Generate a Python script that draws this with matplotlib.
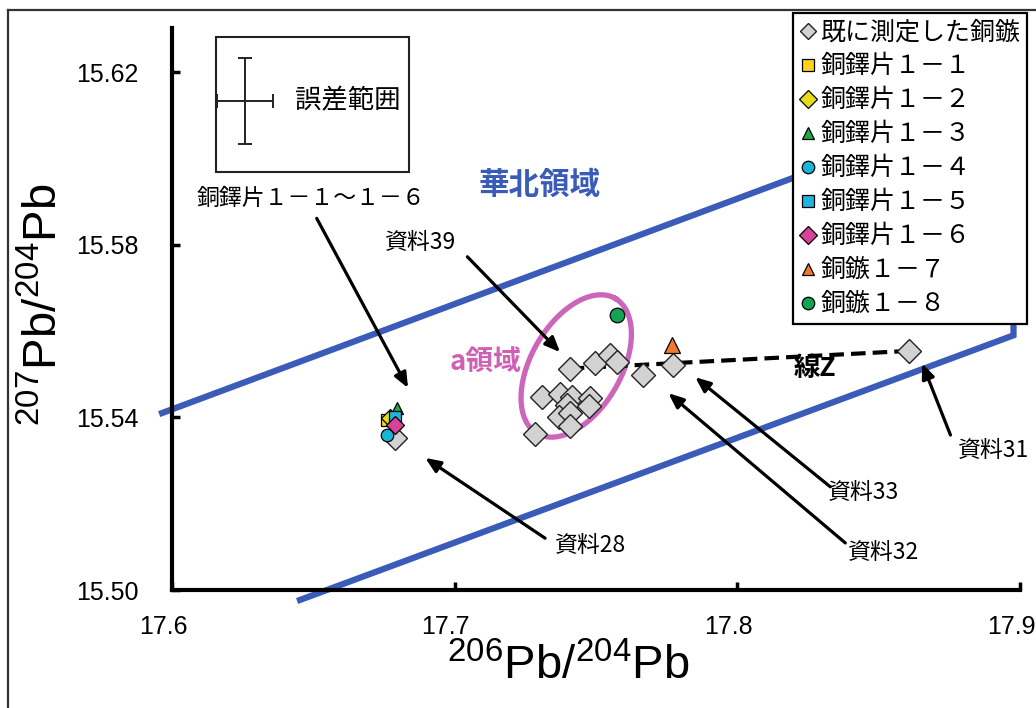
import numpy as np
import matplotlib
matplotlib.use('Agg')
import matplotlib.pyplot as plt
import matplotlib.transforms as mtransforms
from matplotlib.lines import Line2D
from matplotlib.patches import Rectangle

plt.rcParams['font.family'] = ['Noto Sans CJK JP', 'DejaVu Sans']
plt.rcParams['mathtext.fontset'] = 'custom'
plt.rcParams['mathtext.rm'] = 'Liberation Sans'
plt.rcParams['mathtext.it'] = 'Liberation Sans'
NUM_FONT = ['Liberation Sans', 'DejaVu Sans']

# previously measured arrowheads (206Pb/204Pb, 207Pb/204Pb)
known_x = [17.7407, 17.7498, 17.7549, 17.7575, 17.7668, 17.7309, 17.7374, 17.7415,
           17.7397, 17.7480, 17.7474, 17.7368, 17.7407, 17.7409, 17.7285, 17.7773,
           17.8609, 17.6789]
known_y = [15.5513, 15.5525, 15.5544, 15.5528, 15.5498, 15.5447, 15.5455, 15.5447,
           15.5428, 15.5445, 15.5427, 15.5400, 15.5411, 15.5380, 15.5362, 15.5521,
           15.5554, 15.5352]

# new samples: bell fragments 1-1..1-6, arrowheads 1-7, 1-8
sample_names = ['銅鐸片１－１', '銅鐸片１－２', '銅鐸片１－３', '銅鐸片１－４',
                '銅鐸片１－５', '銅鐸片１－６', '銅鏃１－７', '銅鏃１－８']
sample_x = [17.6760, 17.6772, 17.6795, 17.6760, 17.6789, 17.6789, 17.7769, 17.7574]
sample_y = [15.5394, 15.5398, 15.5421, 15.5359, 15.5401, 15.5382, 15.5568, 15.5637]
sample_marker = ['s', 'D', '^', 'o', 's', 'D', '^', 'o']
sample_color = ['#FFD21E', '#E6DC1E', '#1FA84A', '#1BB4D4', '#22B4DD', '#D8429A',
                '#F07830', '#12A355']

# North China field outline
region_x = [17.5965, 17.8977, 17.8977, 17.6453]
region_y = [15.5410, 15.6145, 15.5590, 15.4977]

# "a" field ellipse: centre, half-axis vectors
ell_c = (17.7430, 15.5519)
ell_u = (0.01381, 0.01565)
ell_v = (-0.01380, 0.00521)

# line Z: from 資料39 to 資料31
lineZ_x = [17.7407, 17.8609]
lineZ_y = [15.5513, 15.5554]

# error range
err_x, err_y = 17.6258, 15.6133
err_dx, err_dy = 0.0100, 0.0100

# annotations: text, text position, arrow start, arrow tip
notes = [
    ('銅鐸片１－１～１－６', (17.6490, 15.5908), (17.6512, 15.5861), (17.6835, 15.5468)),
    ('資料39', (17.6878, 15.5806), (17.7045, 15.5772), (17.7373, 15.5551)),
    ('資料28', (17.7480, 15.5104), (17.7320, 15.5120), (17.6896, 15.5306)),
    ('資料32', (17.8517, 15.5088), (17.8382, 15.5109), (17.7756, 15.5456)),
    ('資料33', (17.8445, 15.5225), (17.8329, 15.5239), (17.7851, 15.5493)),
    ('資料31', (17.8905, 15.5324), (17.8754, 15.5359), (17.8654, 15.5525)),
]

fig = plt.figure(figsize=(10.36, 7.08), dpi=100)
ax = fig.add_axes([172 / 1036, 118 / 708, 848 / 1036, 562 / 708])
ax.set_xlim(17.6, 17.9)
ax.set_ylim(15.50, 15.6302)

blue = '#3A5BB8'
ax.plot(region_x, region_y, color=blue, lw=4.5, clip_on=False, zorder=2,
        solid_joinstyle='miter')

t = np.linspace(0, 2 * np.pi, 200)
ex = ell_c[0] + ell_u[0] * np.cos(t) + ell_v[0] * np.sin(t)
ey = ell_c[1] + ell_u[1] * np.cos(t) + ell_v[1] * np.sin(t)
ax.plot(ex, ey, color='#CC66BB', lw=3.8, zorder=3)

ax.plot(lineZ_x, lineZ_y, color='black', lw=3, dashes=(3.5, 1.7), zorder=4)

ax.plot(known_x, known_y, 'D', ms=12.5, mfc='#D2D2D2', mec='#222222', mew=1.0,
        ls='none', zorder=5)

for i in range(len(sample_x)):
    ms = 9 if i < 6 else (12 if i == 6 else 10.5)
    ax.plot(sample_x[i], sample_y[i], sample_marker[i], ms=ms, mfc=sample_color[i],
            mec='black', mew=0.9, ls='none', zorder=6)

# error range box
ax.add_patch(Rectangle((17.6156, 15.5968), 0.0683, 0.0313, fill=False,
                       ec='#222222', lw=1.5, zorder=7))
ax.errorbar([err_x], [err_y], xerr=[err_dx], yerr=[err_dy], fmt='none',
            ecolor='#222222', elinewidth=1.4, capsize=5, capthick=1.4, zorder=7)
ax.text(17.6620, err_y, '誤差範囲', fontsize=19, ha='center', va='center', zorder=7)

for label, tpos, start, tip in notes:
    ax.annotate('', xy=tip, xytext=start,
                arrowprops=dict(arrowstyle='-|>,head_length=0.9,head_width=0.38',
                                color='black', lw=2.3, shrinkA=0, shrinkB=0),
                zorder=8)
    ax.text(tpos[0], tpos[1], label, fontsize=16.5, ha='center', va='center', zorder=8)

ax.text(17.7300, 15.5938, '華北領域', fontsize=22, color=blue, fontweight='bold',
        ha='center', va='center')
ax.text(17.7110, 15.5528, 'a領域', fontsize=20, color='#D060B4', fontweight='bold',
        ha='center', va='center')
ax.text(17.8276, 15.5514, '線Z', fontsize=19, color='black', fontweight='bold',
        ha='center', va='center')

# axes styling
for side in ['top', 'right']:
    ax.spines[side].set_visible(False)
for side in ['left', 'bottom']:
    ax.spines[side].set_linewidth(3)
ax.set_xticks([17.6, 17.7, 17.8, 17.9])
ax.set_xticklabels(['17.6', '17.7', '17.8', '17.9'])
ax.set_yticks([15.50, 15.54, 15.58, 15.62])
ax.set_yticklabels(['15.50', '15.54', '15.58', '15.62'])
ax.tick_params(direction='in', length=6, width=2.5, labelsize=18)
ax.tick_params(axis='y', pad=24)
ax.tick_params(axis='x', pad=18)
shift = mtransforms.ScaledTranslation(-9 / 100, 0, fig.dpi_scale_trans)
for lab in ax.get_xticklabels():
    lab.set_family(NUM_FONT)
    lab.set_transform(lab.get_transform() + shift)
for lab in ax.get_yticklabels():
    lab.set_family(NUM_FONT)

fig.text(568 / 1036, 1 - 667 / 708, r'$^{206}$Pb/$^{204}$Pb', fontsize=34,
         family=NUM_FONT, ha='center', va='center')
fig.text(45 / 1036, 1 - 305 / 708, r'$^{207}$Pb/$^{204}$Pb', fontsize=34,
         family=NUM_FONT, ha='center', va='center', rotation=90)

# outer frame
fig.add_artist(Line2D([8 / 1036, 8 / 1036], [0, 1 - 10 / 708], color='#333333', lw=1.6))
fig.add_artist(Line2D([8 / 1036, 1], [1 - 10 / 708, 1 - 10 / 708], color='#333333', lw=1.6))

# legend
handles = [Line2D([], [], marker='D', ms=8, mfc='#D2D2D2', mec='#222222', mew=1.0,
                  ls='none')]
labels = ['既に測定した銅鏃']
for i in range(len(sample_names)):
    handles.append(Line2D([], [], marker=sample_marker[i], ms=9, mfc=sample_color[i],
                          mec='black', mew=0.9, ls='none'))
    labels.append(sample_names[i])
leg = fig.legend(handles, labels, loc='upper left',
                 bbox_to_anchor=(793 / 1036, 1 - 13 / 708), fontsize=18,
                 frameon=True, fancybox=False, framealpha=1, edgecolor='black',
                 borderpad=0.25, labelspacing=0.32, handlelength=0.7,
                 handletextpad=0.15, borderaxespad=0)
leg.get_frame().set_linewidth(1.6)
leg.set_zorder(20)

fig.savefig('out.png', dpi=100, facecolor='white')
